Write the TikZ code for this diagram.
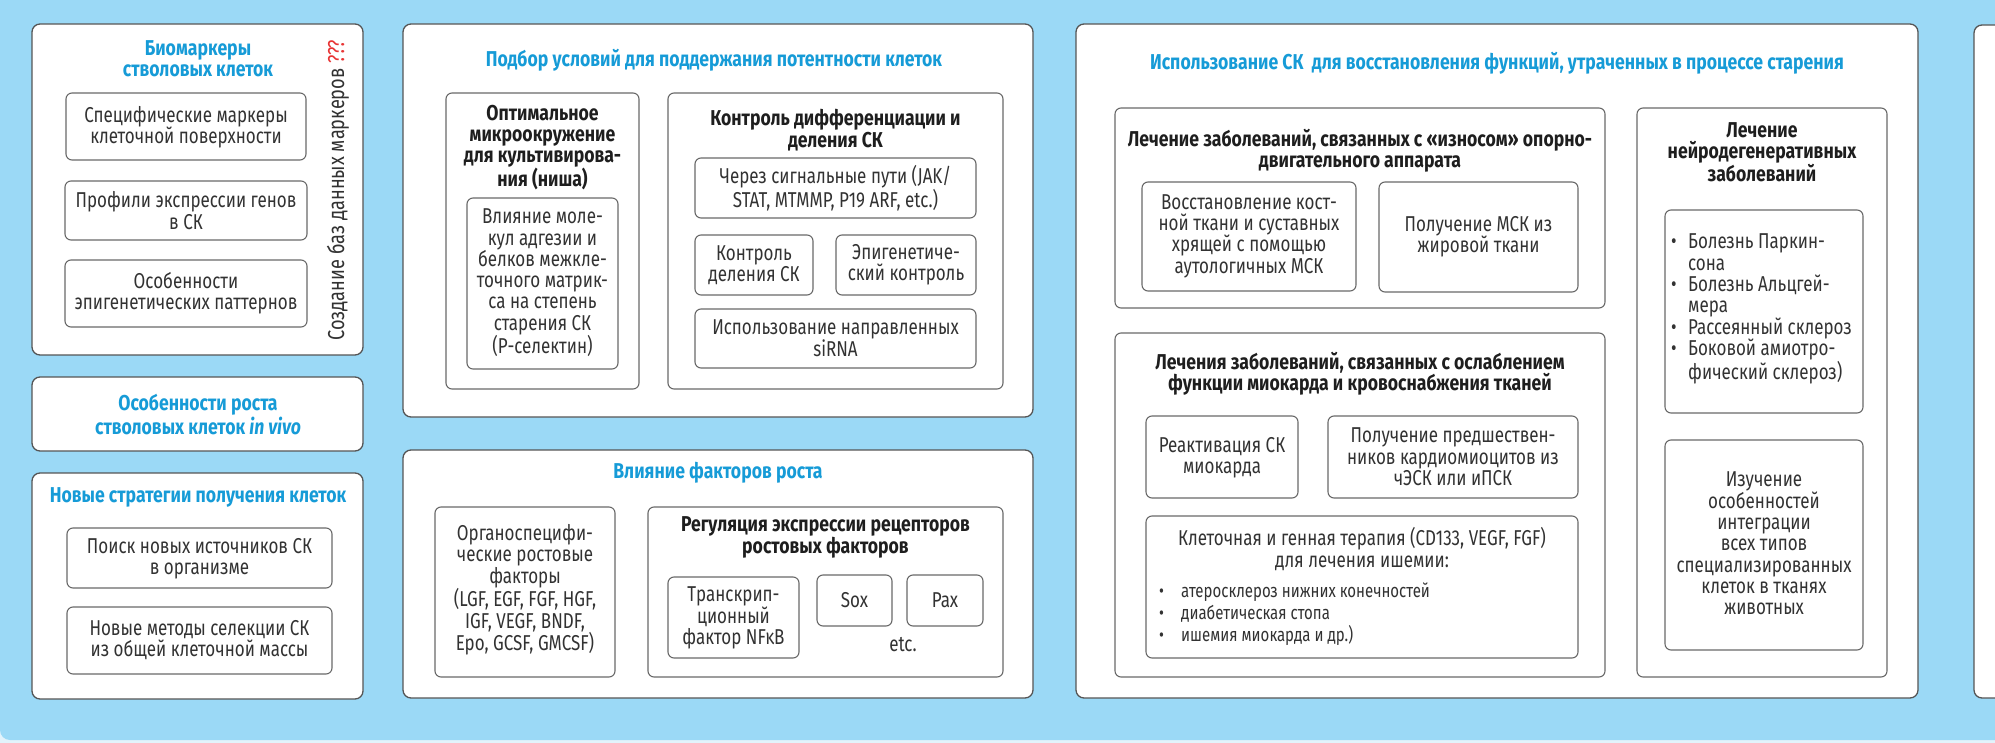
\documentclass[tikz,border=0pt]{standalone}
\usepackage{fontspec}
\setmainfont{Fira Sans}[FakeStretch=0.79, BoldFeatures={FakeStretch=0.82}, BoldItalicFeatures={FakeStretch=0.82}]
\usetikzlibrary{fit}
\definecolor{bgblue}{RGB}{155,217,246}
\definecolor{bglight}{RGB}{226,243,251}
\definecolor{panelgray}{RGB}{85,85,85}
\definecolor{boxgray}{RGB}{105,105,105}
\definecolor{titleblue}{RGB}{22,155,215}
\definecolor{bodytext}{RGB}{50,50,50}
\definecolor{darktext}{RGB}{30,30,30}
\definecolor{alertred}{RGB}{232,52,52}
\newcommand\fs{\fontsize{21.5}{21.3}\selectfont}
\newcommand\fsmall{\fontsize{19}{22}\selectfont}
\newcommand\bulitem{\makebox[17pt][l]{\textbullet}}
\newcommand\bulsmall{\makebox[22pt][l]{\textbullet}}
\tikzset{
  panel/.style={draw=panelgray, line width=1.3pt, rounded corners=8pt, fill=white, inner sep=0pt},
  ibox/.style={draw=boxgray, line width=1.1pt, rounded corners=6pt, fill=white, inner sep=0pt},
  ptitle/.style={text=titleblue, font=\fs\bfseries, align=center, inner sep=0pt},
  btitle/.style={text=darktext, font=\fs\bfseries, align=center, inner sep=0pt},
  txt/.style={text=bodytext, font=\fs, align=center, inner sep=0pt},
  listtxt/.style={text=bodytext, font=\fs, align=left, inner sep=0pt, anchor=west},
  smalllist/.style={text=bodytext, font=\fsmall, align=left, inner sep=0pt, anchor=west},
}
\begin{document}
\begin{tikzpicture}[x=1pt, y=-1pt]
\useasboundingbox (0,0) rectangle (1995,743);
\clip (0,0) rectangle (1995,743);
\fill[bglight] (0,0) rectangle (1995,743);
\fill[bgblue, rounded corners=10pt] (0,-20) rectangle (2030,740);

% ---------- Panel A ----------
\node[panel, fit={(32,24) (363,355)}] (A) {};
\node[ptitle] (At) at (198,58.5) {Биомаркеры\\стволовых клеток};
\node[ibox, fit={(66,93) (306,160)}] (A1) {};
\node[txt] (A1t) at (186,127.5) {Специфические маркеры\\клеточной поверхности};
\node[ibox, fit={(65,181) (307,240)}] (A2) {};
\node[txt] (A2t) at (186,210.5) {Профили экспрессии генов\\в СК};
\node[ibox, fit={(65,260) (307,327)}] (A3) {};
\node[txt] (A3t) at (186,293) {Особенности\\эпигенетических паттернов};
\node[txt, rotate=90, font=\fontsize{23}{23}\selectfont] (Arot) at (338,190) {Создание баз данных маркеров \textcolor{alertred}{???}};

% ---------- Panel B ----------
\node[panel, fit={(32,377) (363,451)}] (B) {};
\node[ptitle] (Bt) at (198,414.5) {Особенности роста\\стволовых клеток \textit{in vivo}};

% ---------- Panel C ----------
\node[panel, fit={(32,473) (363,699)}] (C) {};
\node[ptitle] (Ct) at (198,497) {Новые стратегии получения клеток};
\node[ibox, fit={(67,528) (332,588)}] (C1) {};
\node[txt] (C1t) at (199.5,558.5) {Поиск новых источников СК\\в организме};
\node[ibox, fit={(67,607) (332,674)}] (C2) {};
\node[txt] (C2t) at (199.5,640) {Новые методы селекции СК\\из общей клеточной массы};

% ---------- Panel D ----------
\node[panel, fit={(403,24) (1033,417)}] (D) {};
\node[ptitle] (Dt) at (714,60) {Подбор условий для поддержания потентности клеток};
\node[ibox, fit={(446,93) (639,389)}] (D1) {};
\node[btitle] (D1t) at (542.5,147.5) {Оптимальное\\микроокружение\\для культивирова-\\ния (ниша)};
\node[ibox, fit={(467,198) (618,369)}] (D1a) {};
\node[txt] (D1at) at (542.5,283) {Влияние моле-\\кул адгезии и\\белков межкле-\\точного матрик-\\са на степень\\старения СК\\(Р-селектин)};
\node[ibox, fit={(668,93) (1003,389)}] (D2) {};
\node[btitle] (D2t) at (835.5,130) {Контроль дифференциации и\\деления СК};
\node[ibox, fit={(695,158) (976,218)}] (D2a) {};
\node[txt, font=\fontsize{21.5}{20}\selectfont] (D2at) at (835.5,188) {Через сигнальные пути (JAK/\\STAT, MTMMP, P19 ARF, etc.)};
\node[ibox, fit={(695,235) (813,295)}] (D2b) {};
\node[txt] (D2bt) at (754,265) {Контроль\\деления СК};
\node[ibox, fit={(836,235) (976,295)}] (D2c) {};
\node[txt] (D2ct) at (906,265) {Эпигенетиче-\\ский контроль};
\node[ibox, fit={(695,309) (976,368)}] (D2d) {};
\node[txt] (D2dt) at (835.5,338.5) {Использование направленных\\siRNA};

% ---------- Panel E ----------
\node[panel, fit={(403,450) (1033,698)}] (E) {};
\node[ptitle] (Et) at (718,473) {Влияние факторов роста};
\node[ibox, fit={(435,507) (615,677)}] (E1) {};
\node[txt] (E1t) at (525,590) {Органоспецифи-\\ческие ростовые\\факторы\\(LGF, EGF, FGF, HGF,\\IGF, VEGF, BNDF,\\Epo, GCSF, GMCSF)};
\node[ibox, fit={(648,507) (1003,677)}] (E2) {};
\node[btitle] (E2t) at (825.5,537.5) {Регуляция экспрессии рецепторов\\ростовых факторов};
\node[ibox, fit={(668,577) (799,658)}] (E2a) {};
\node[txt] (E2at) at (733.5,618) {Транскрип-\\ционный\\фактор NFκB};
\node[ibox, fit={(817,575) (892,626)}] (E2b) {};
\node[txt] (E2bt) at (854.5,600.5) {Sox};
\node[ibox, fit={(907,575) (983,626)}] (E2c) {};
\node[txt] (E2ct) at (945,600.5) {Pax};
\node[txt] (E2etc) at (903,645) {etc.};

% ---------- Panel F ----------
\node[panel, fit={(1076,24) (1918,698)}] (F) {};
\node[ptitle] (Ft) at (1497,63) {Использование СК\ \ для восстановления функций, утраченных в процессе старения};
\node[ibox, fit={(1115,108) (1605,308)}] (F1) {};
\node[btitle] (F1t) at (1360,151) {Лечение заболеваний, связанных с «износом» опорно-\\двигательного аппарата};
\node[ibox, fit={(1142,182) (1356,291)}] (F1a) {};
\node[txt] (F1at) at (1249,236) {Восстановление кост-\\ной ткани и суставных\\хрящей с помощью\\аутологичных МСК};
\node[ibox, fit={(1379,182) (1578,292)}] (F1b) {};
\node[txt] (F1bt) at (1478.5,236.5) {Получение МСК из\\жировой ткани};
\node[ibox, fit={(1115,333) (1605,677)}] (F2) {};
\node[btitle] (F2t) at (1360,373.5) {Лечения заболеваний, связанных с ослаблением\\функции миокарда и кровоснабжения тканей};
\node[ibox, fit={(1146,416) (1298,498)}] (F2a) {};
\node[txt] (F2at) at (1222,457.5) {Реактивация СК\\миокарда};
\node[ibox, fit={(1328,416) (1578,498)}] (F2b) {};
\node[txt] (F2bt) at (1453,457) {Получение предшествен-\\ников кардиомиоцитов из\\чЭСК или иПСК};
\node[ibox, fit={(1146,516) (1578,658)}] (F2c) {};
\node[txt] (F2ct) at (1362,549) {Клеточная и генная терапия (CD133, VEGF, FGF)\\для лечения ишемии:};
\node[smalllist] (F2cl) at (1159,614) {\bulsmall атеросклероз нижних конечностей\\\bulsmall диабетическая стопа\\\bulsmall ишемия миокарда и др.)};
\node[ibox, fit={(1637,108) (1887,677)}] (F3) {};
\node[btitle] (F3t) at (1762,152) {Лечение\\нейродегенеративных\\заболеваний};
\node[ibox, fit={(1665,210) (1863,413)}] (F3a) {};
\node[listtxt] (F3at) at (1671,309) {\bulitem Болезнь Паркин-\\\hspace*{17pt}сона\\\bulitem Болезнь Альцгей-\\\hspace*{17pt}мера\\\bulitem Рассеянный склероз\\\bulitem Боковой амиотро-\\\hspace*{17pt}фический склероз)};
\node[ibox, fit={(1665,440) (1863,650)}] (F3b) {};
\node[txt] (F3bt) at (1764,543.5) {Изучение\\особенностей\\интеграции\\всех типов\\специализированных\\клеток в тканях\\животных};

% ---------- Panel G (cut off) ----------
\node[panel, fit={(1974,25) (2100,698)}] (G) {};
\end{tikzpicture}
\end{document}
